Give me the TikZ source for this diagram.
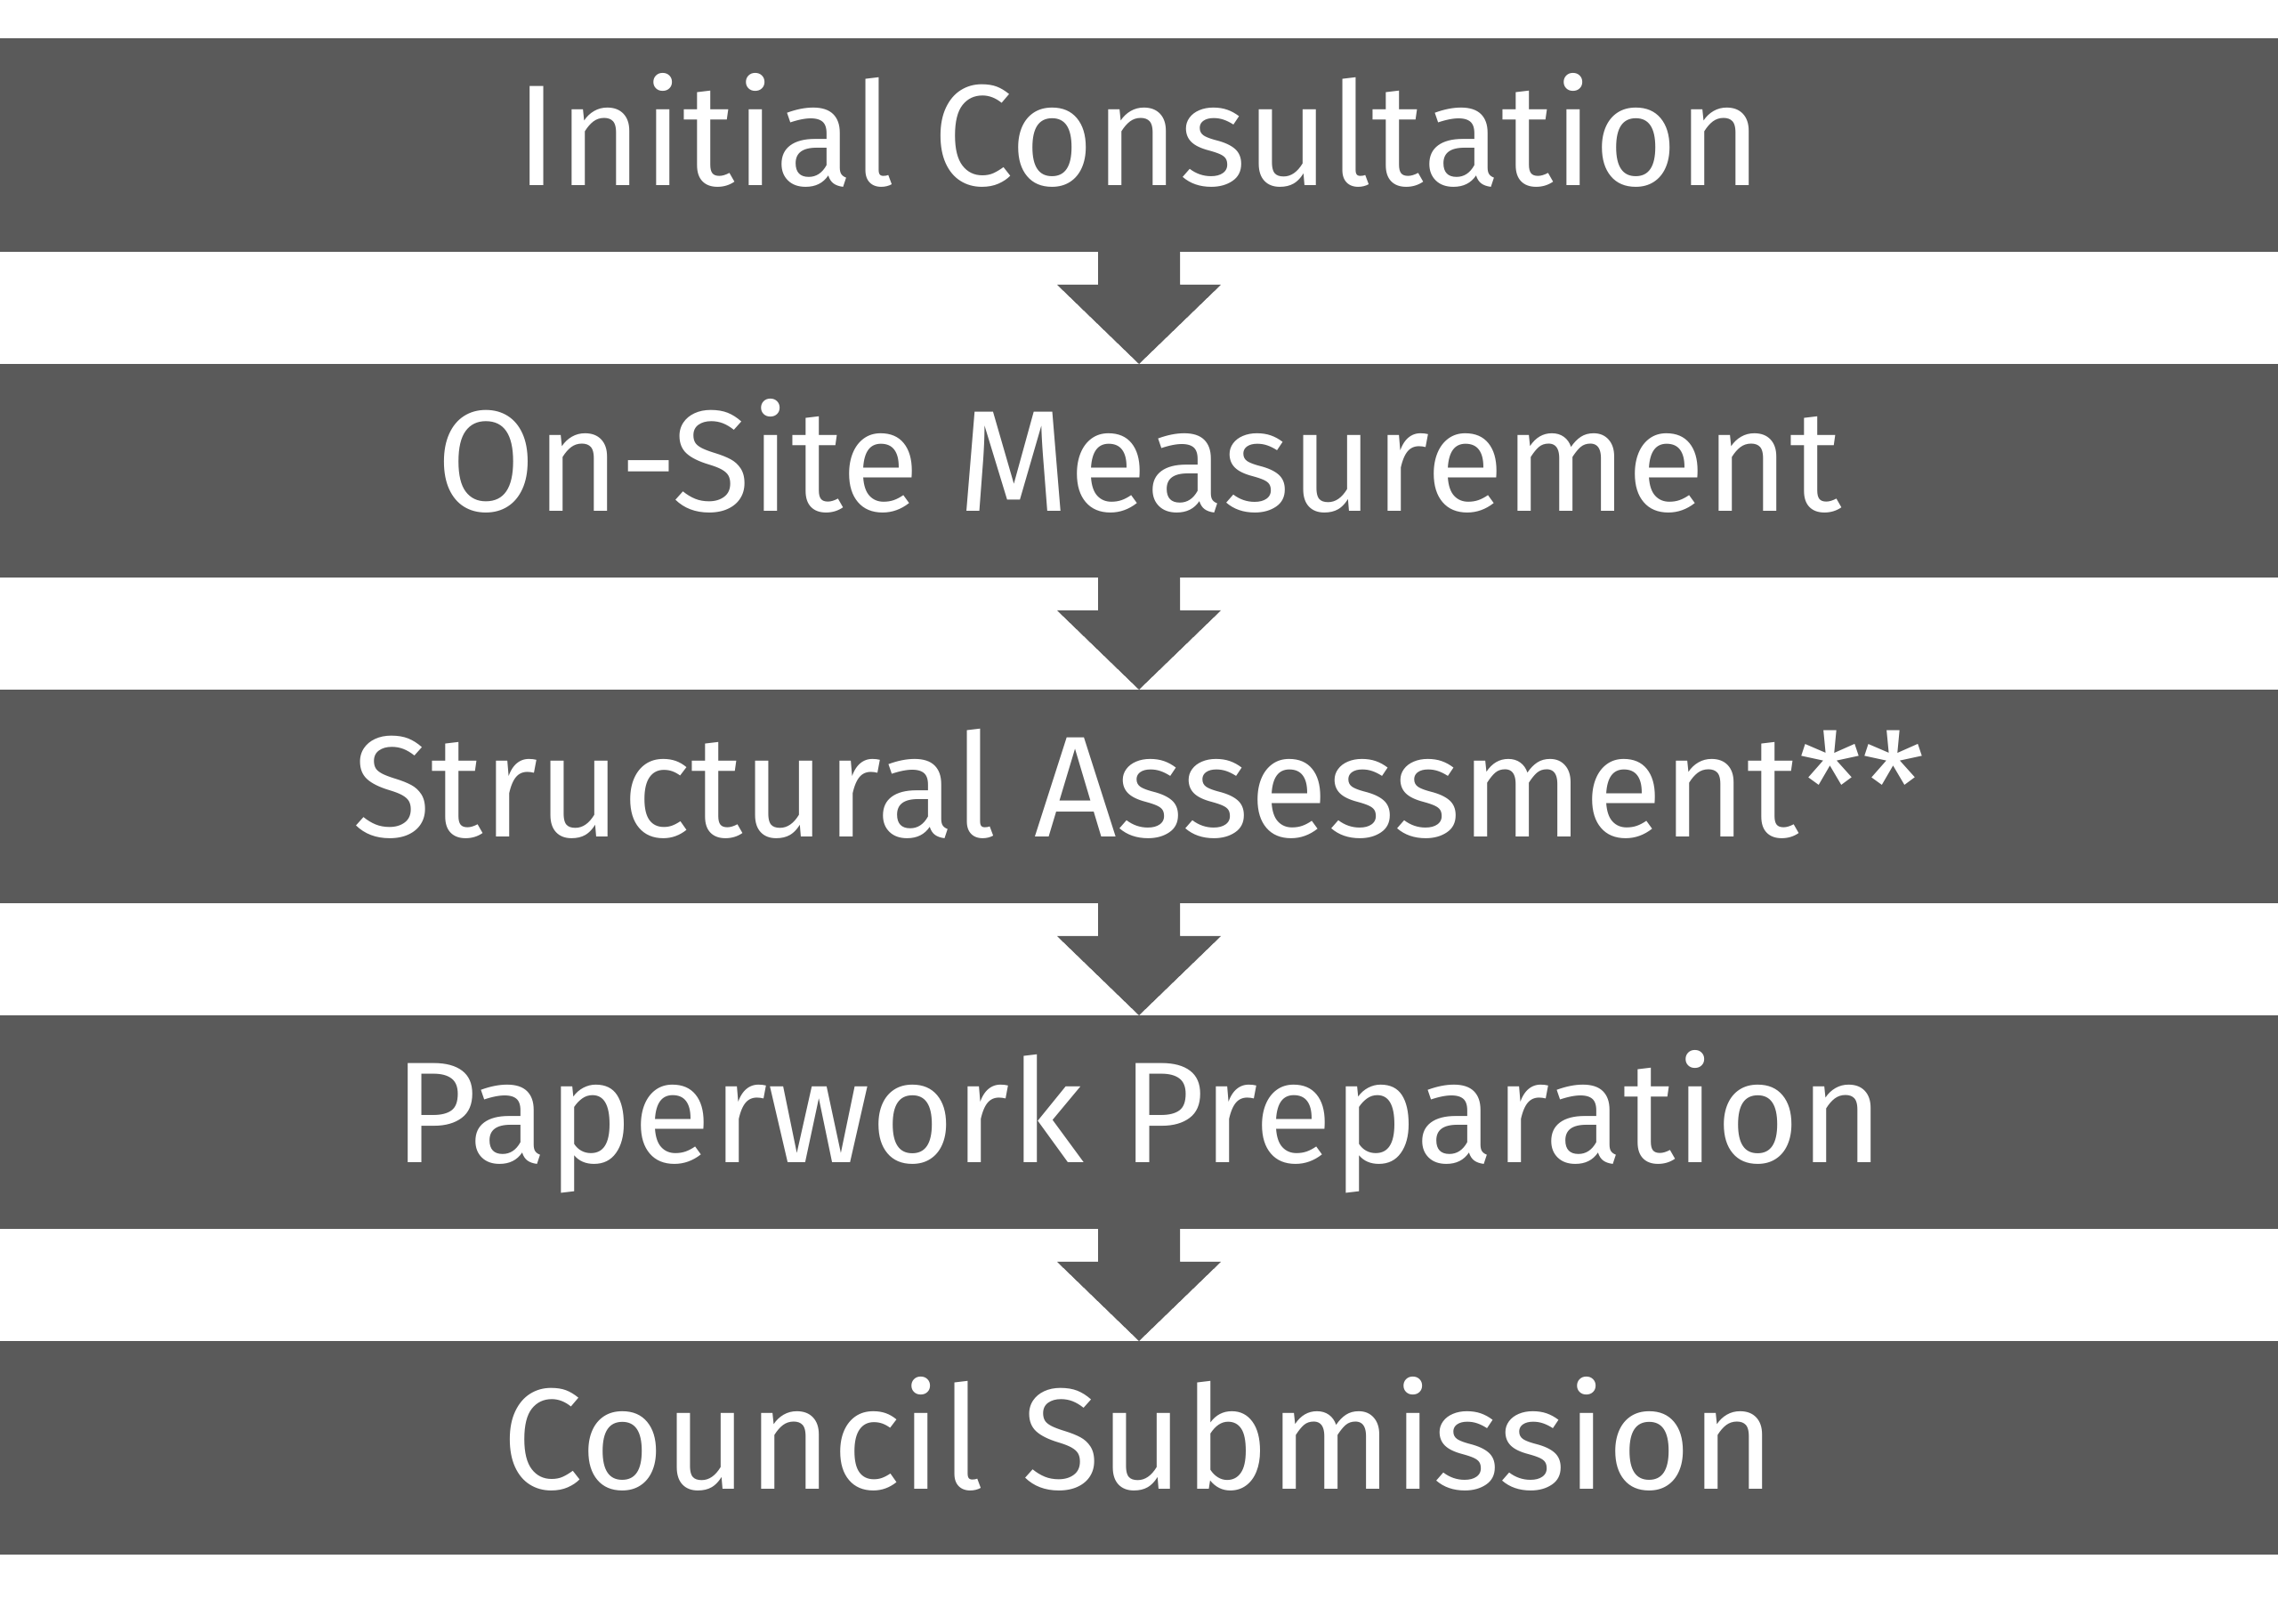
\documentclass[tikz,border=0pt]{standalone}
\usepackage{fontspec}
\setmainfont{Fira Sans}
\usepackage{tikz}
\usetikzlibrary{calc}

\definecolor{stepgrey}{RGB}{90,90,90}
\tikzset{
  stepbox/.style={rectangle, fill=stepgrey, text=white, inner sep=0pt, outer sep=0pt,
    minimum width=25.6cm, minimum height=2.4cm, text height=1.22cm, text depth=0.3cm,
    font=\fontsize{46}{55}\selectfont},
  steparrow/.style={fill=stepgrey}
}

\begin{document}
\begin{tikzpicture}
        \useasboundingbox (0,0) rectangle (25.6,18.24);

        % Steps
        \foreach \i/\t in {1/Initial Consultation, 2/On-Site Measurement, 3/Structural Assessment**, 4/Paperwork Preparation, 5/Council Submission} {
            \node[stepbox] (s\i) at (12.8, {16.61-(\i-1)*3.66}) {\t};
        }

        % Arrows between steps
        \foreach \a/\b in {s1/s2, s2/s3, s3/s4, s4/s5} {
            \fill[steparrow] ($(\a.south)+(-0.46,0)$) -- ++(0,-0.37) -- ++(-0.46,0) -- (\b.north)
                -- ++(0.92,0.89) -- ++(-0.46,0) -- ++(0,0.37) -- cycle;
        }
    \end{tikzpicture}
\end{document}
